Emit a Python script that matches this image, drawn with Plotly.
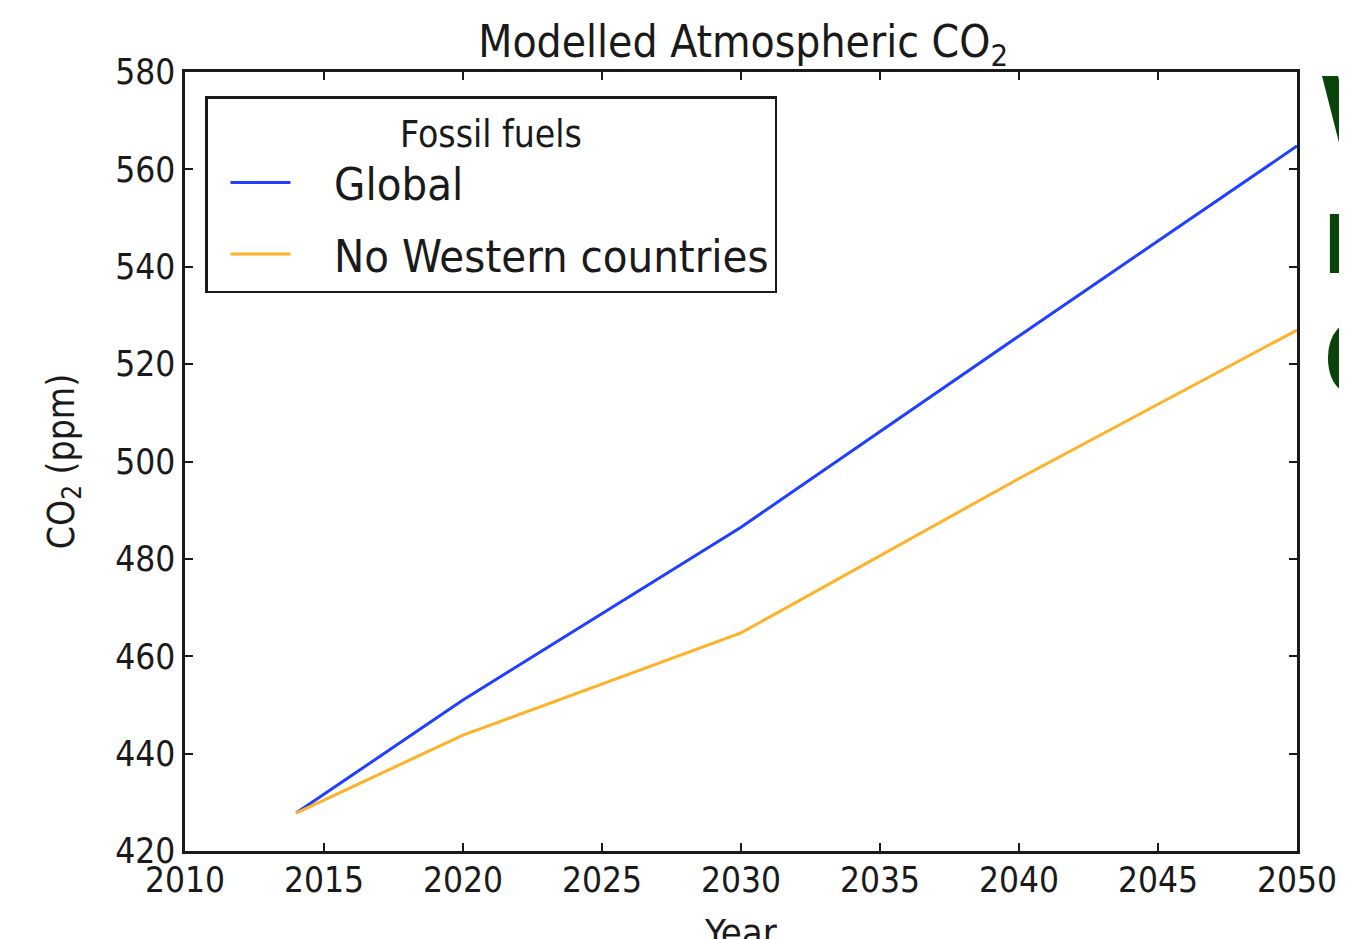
import plotly.graph_objects as go

years = [2014, 2020, 2030, 2040, 2050]
global_co2 = [427.8, 451.0, 486.5, 525.8, 564.8]
no_western_co2 = [427.8, 443.8, 464.8, 496.5, 527.0]
x_ticks = [2010, 2015, 2020, 2025, 2030, 2035, 2040, 2045, 2050]
y_ticks = [420, 440, 460, 480, 500, 520, 540, 560, 580]
side_letters = ["W", "n", "C"]

FONT = "DejaVu Sans Condensed, DejaVu Sans, sans-serif"
TXT = "#1a1a1a"
NB = "\u00a0\u00a0\u00a0"

fig = go.Figure()
fig.add_trace(go.Scatter(x=years, y=global_co2, mode="lines", name=NB + "Global",
                         line=dict(color="#1f40ff", width=3), legendgroup="a"))
fig.add_trace(go.Scatter(x=years, y=no_western_co2, mode="lines", name=NB + "No Western countries",
                         line=dict(color="#ffb128", width=3), legendgroup="b"))

axis_common = dict(showline=True, linecolor="#1a1a1a", linewidth=2.5, mirror="allticks",
                   ticks="inside", ticklen=8, tickwidth=1.5, tickcolor="#1a1a1a",
                   showgrid=False, zeroline=False, automargin=False,
                   tickfont=dict(family=FONT, size=35, color=TXT))

fig.update_xaxes(range=[2010, 2050], tickvals=x_ticks, **axis_common, ticklabelstandoff=-4)
fig.update_yaxes(range=[420, 580], tickvals=y_ticks, **axis_common,
                 title=dict(text="CO<sub>2</sub> (ppm)", font=dict(family=FONT, size=37, color=TXT), standoff=30))

# x-axis title, placed low so that it is partly cut by the bottom edge as in the reference
fig.add_annotation(text="Year", xref="paper", yref="paper", x=0.5, y=0, yshift=-58,
                   xanchor="center", yanchor="top", showarrow=False,
                   font=dict(family=FONT, size=38, color=TXT))

letter_y = [0.949, 0.795, 0.637]
for letter, ly in zip(side_letters, letter_y):
    fig.add_annotation(text=letter, xref="paper", yref="paper", x=1.0, xshift=23,
                       y=ly, xanchor="left", yanchor="middle",
                       showarrow=False,
                       font=dict(family="Noto Sans, DejaVu Sans, sans-serif", size=108,
                                 color="#0a440a", weight="bold"))

fig.update_layout(
    width=1339, height=931,
    margin=dict(l=177, r=50, t=64, b=88, autoexpand=False),
    paper_bgcolor="white", plot_bgcolor="white",
    title=dict(text="Modelled Atmospheric CO<sub>2</sub>", x=0.549, xanchor="center",
               y=0.964, yanchor="middle",
               font=dict(family=FONT, size=44, color=TXT)),
    legend=dict(x=0.018, y=0.969, xanchor="left", yanchor="top",
                bordercolor="#1a1a1a", borderwidth=2.5, bgcolor="white",
                font=dict(family=FONT, size=45, color=TXT),
                title=dict(text="Fossil fuels", side="top center",
                           font=dict(family=FONT, size=37, color=TXT)),
                itemwidth=60, indentation=18, tracegroupgap=10, traceorder="grouped"),
    showlegend=True,
)

fig.write_html("out.html")
